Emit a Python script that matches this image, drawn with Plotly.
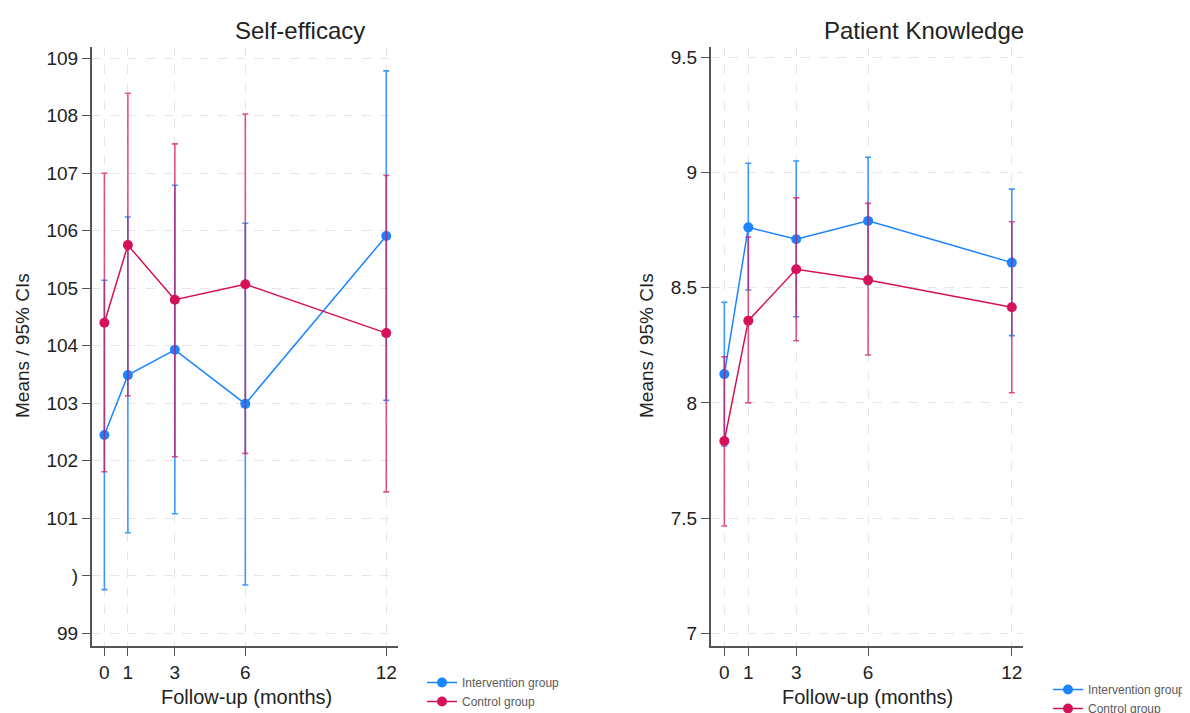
import plotly.graph_objects as go

months = [0, 1, 3, 6, 12]

# Self-efficacy
se_int_mean = [102.45, 103.49, 103.93, 102.99, 105.91]
se_int_upper = [105.14, 106.24, 106.79, 106.13, 108.78]
se_int_lower = [99.76, 100.75, 101.08, 99.84, 103.05]
se_ctl_mean = [104.40, 105.75, 104.80, 105.07, 104.22]
se_ctl_upper = [107.00, 108.39, 107.51, 108.03, 106.96]
se_ctl_lower = [101.81, 103.13, 102.07, 102.13, 101.46]

# Patient knowledge
pk_int_mean = [8.125, 8.762, 8.710, 8.790, 8.609]
pk_int_upper = [8.437, 9.040, 9.050, 9.066, 8.928]
pk_int_lower = [7.813, 8.490, 8.374, 8.514, 8.292]
pk_ctl_mean = [7.835, 8.357, 8.580, 8.533, 8.415]
pk_ctl_upper = [8.200, 8.720, 8.890, 8.866, 8.786]
pk_ctl_lower = [7.466, 8.000, 8.270, 8.208, 8.044]

se_ticks = [99, 100, 101, 102, 103, 104, 105, 106, 107, 108, 109]
se_ticktext = ["99", ")", "101", "102", "103", "104", "105", "106", "107", "108", "109"]
pk_ticks = [7, 7.5, 8, 8.5, 9, 9.5]
pk_ticktext = ["7", "7.5", "8", "8.5", "9", "9.5"]

series_names = ["Intervention group", "Control group"]

BLUE = "#1a85ff"
RED = "#d41159"
BLUE_EB = "rgba(26,133,255,0.85)"
RED_EB = "rgba(212,17,89,0.72)"
FONT = "Liberation Sans, Arial, sans-serif"
TXT = "#222222"

# page has an 8px body margin; figure sized so it ends at the window edge
OFF = 8
W, H = 1190 - OFF, 713 - OFF


def px(x):
    return (x - OFF) / W


def py(y):
    return 1 - (y - OFF) / H


fig = go.Figure()


def add_series(mean, up, lo, color, ebcolor, name, xa, ya, legend):
    fig.add_trace(go.Scatter(
        x=months, y=mean, mode="lines+markers", name=name,
        xaxis=xa, yaxis=ya, legend=legend,
        line=dict(color=color, width=1.5),
        marker=dict(color=color, size=10),
        error_y=dict(type="data", symmetric=False,
                     array=[u - m for u, m in zip(up, mean)],
                     arrayminus=[m - l for m, l in zip(mean, lo)],
                     color=ebcolor, thickness=1.6, width=3),
    ))


add_series(se_int_mean, se_int_upper, se_int_lower, BLUE, BLUE_EB, series_names[0], "x", "y", "legend")
add_series(se_ctl_mean, se_ctl_upper, se_ctl_lower, RED, RED_EB, series_names[1], "x", "y", "legend")
add_series(pk_int_mean, pk_int_upper, pk_int_lower, BLUE, BLUE_EB, series_names[0], "x2", "y2", "legend2")
add_series(pk_ctl_mean, pk_ctl_upper, pk_ctl_lower, RED, RED_EB, series_names[1], "x2", "y2", "legend2")

ydom = [py(646), py(46.7)]

axis_common = dict(
    showline=True, linecolor="#555555", linewidth=1.5,
    ticks="outside", ticklen=8, tickcolor="#555555", tickwidth=1.2,
    showgrid=True, gridcolor="#e6e6e6", griddash="dash", gridwidth=1,
    zeroline=False, tickfont=dict(family=FONT, size=19, color=TXT),
)

legend_font = dict(family=FONT, size=12, color="#5a5a5a")

fig.update_layout(
    width=W, height=H,
    paper_bgcolor="white", plot_bgcolor="white",
    margin=dict(l=0, r=0, t=0, b=0, autoexpand=False),
    font=dict(family=FONT),
    xaxis=dict(domain=[px(91.7), px(398)], range=[-0.54, 12.5], anchor="y",
               tickvals=months, **axis_common),
    yaxis=dict(domain=ydom, range=[98.78, 109.2], anchor="x",
               tickvals=se_ticks, ticktext=se_ticktext, **axis_common),
    xaxis2=dict(domain=[px(710.7), px(1023.3)], range=[-0.57, 12.48], anchor="y2",
                tickvals=months, **axis_common),
    yaxis2=dict(domain=ydom, range=[6.945, 9.546], anchor="x2",
                tickvals=pk_ticks, ticktext=pk_ticktext, **axis_common),
    legend=dict(x=px(422), y=py(668), xanchor="left", yanchor="top",
                font=legend_font, bgcolor="rgba(0,0,0,0)", tracegroupgap=0),
    legend2=dict(x=px(1048), y=py(675), xanchor="left", yanchor="top",
                 font=legend_font, bgcolor="rgba(0,0,0,0)", tracegroupgap=0),
    annotations=[
        dict(text="Self-efficacy", x=px(300), y=py(30), xref="paper", yref="paper",
             xanchor="center", yanchor="middle",
             showarrow=False, font=dict(family=FONT, size=24, color=TXT)),
        dict(text="Patient Knowledge", x=px(924), y=py(30), xref="paper", yref="paper",
             xanchor="center", yanchor="middle",
             showarrow=False, font=dict(family=FONT, size=24, color=TXT)),
        dict(text="Means / 95% CIs", x=px(22), y=py(346), xref="paper", yref="paper",
             xanchor="center", yanchor="middle",
             showarrow=False, textangle=-90, font=dict(family=FONT, size=19, color=TXT)),
        dict(text="Means / 95% CIs", x=px(646), y=py(346), xref="paper", yref="paper",
             xanchor="center", yanchor="middle",
             showarrow=False, textangle=-90, font=dict(family=FONT, size=19, color=TXT)),
        dict(text="Follow-up (months)", x=px(246), y=py(697), xref="paper", yref="paper",
             xanchor="center", yanchor="middle",
             showarrow=False, font=dict(family=FONT, size=20, color=TXT)),
        dict(text="Follow-up (months)", x=px(867), y=py(697), xref="paper", yref="paper",
             xanchor="center", yanchor="middle",
             showarrow=False, font=dict(family=FONT, size=20, color=TXT)),
    ],
)

fig.write_html("out.html")
